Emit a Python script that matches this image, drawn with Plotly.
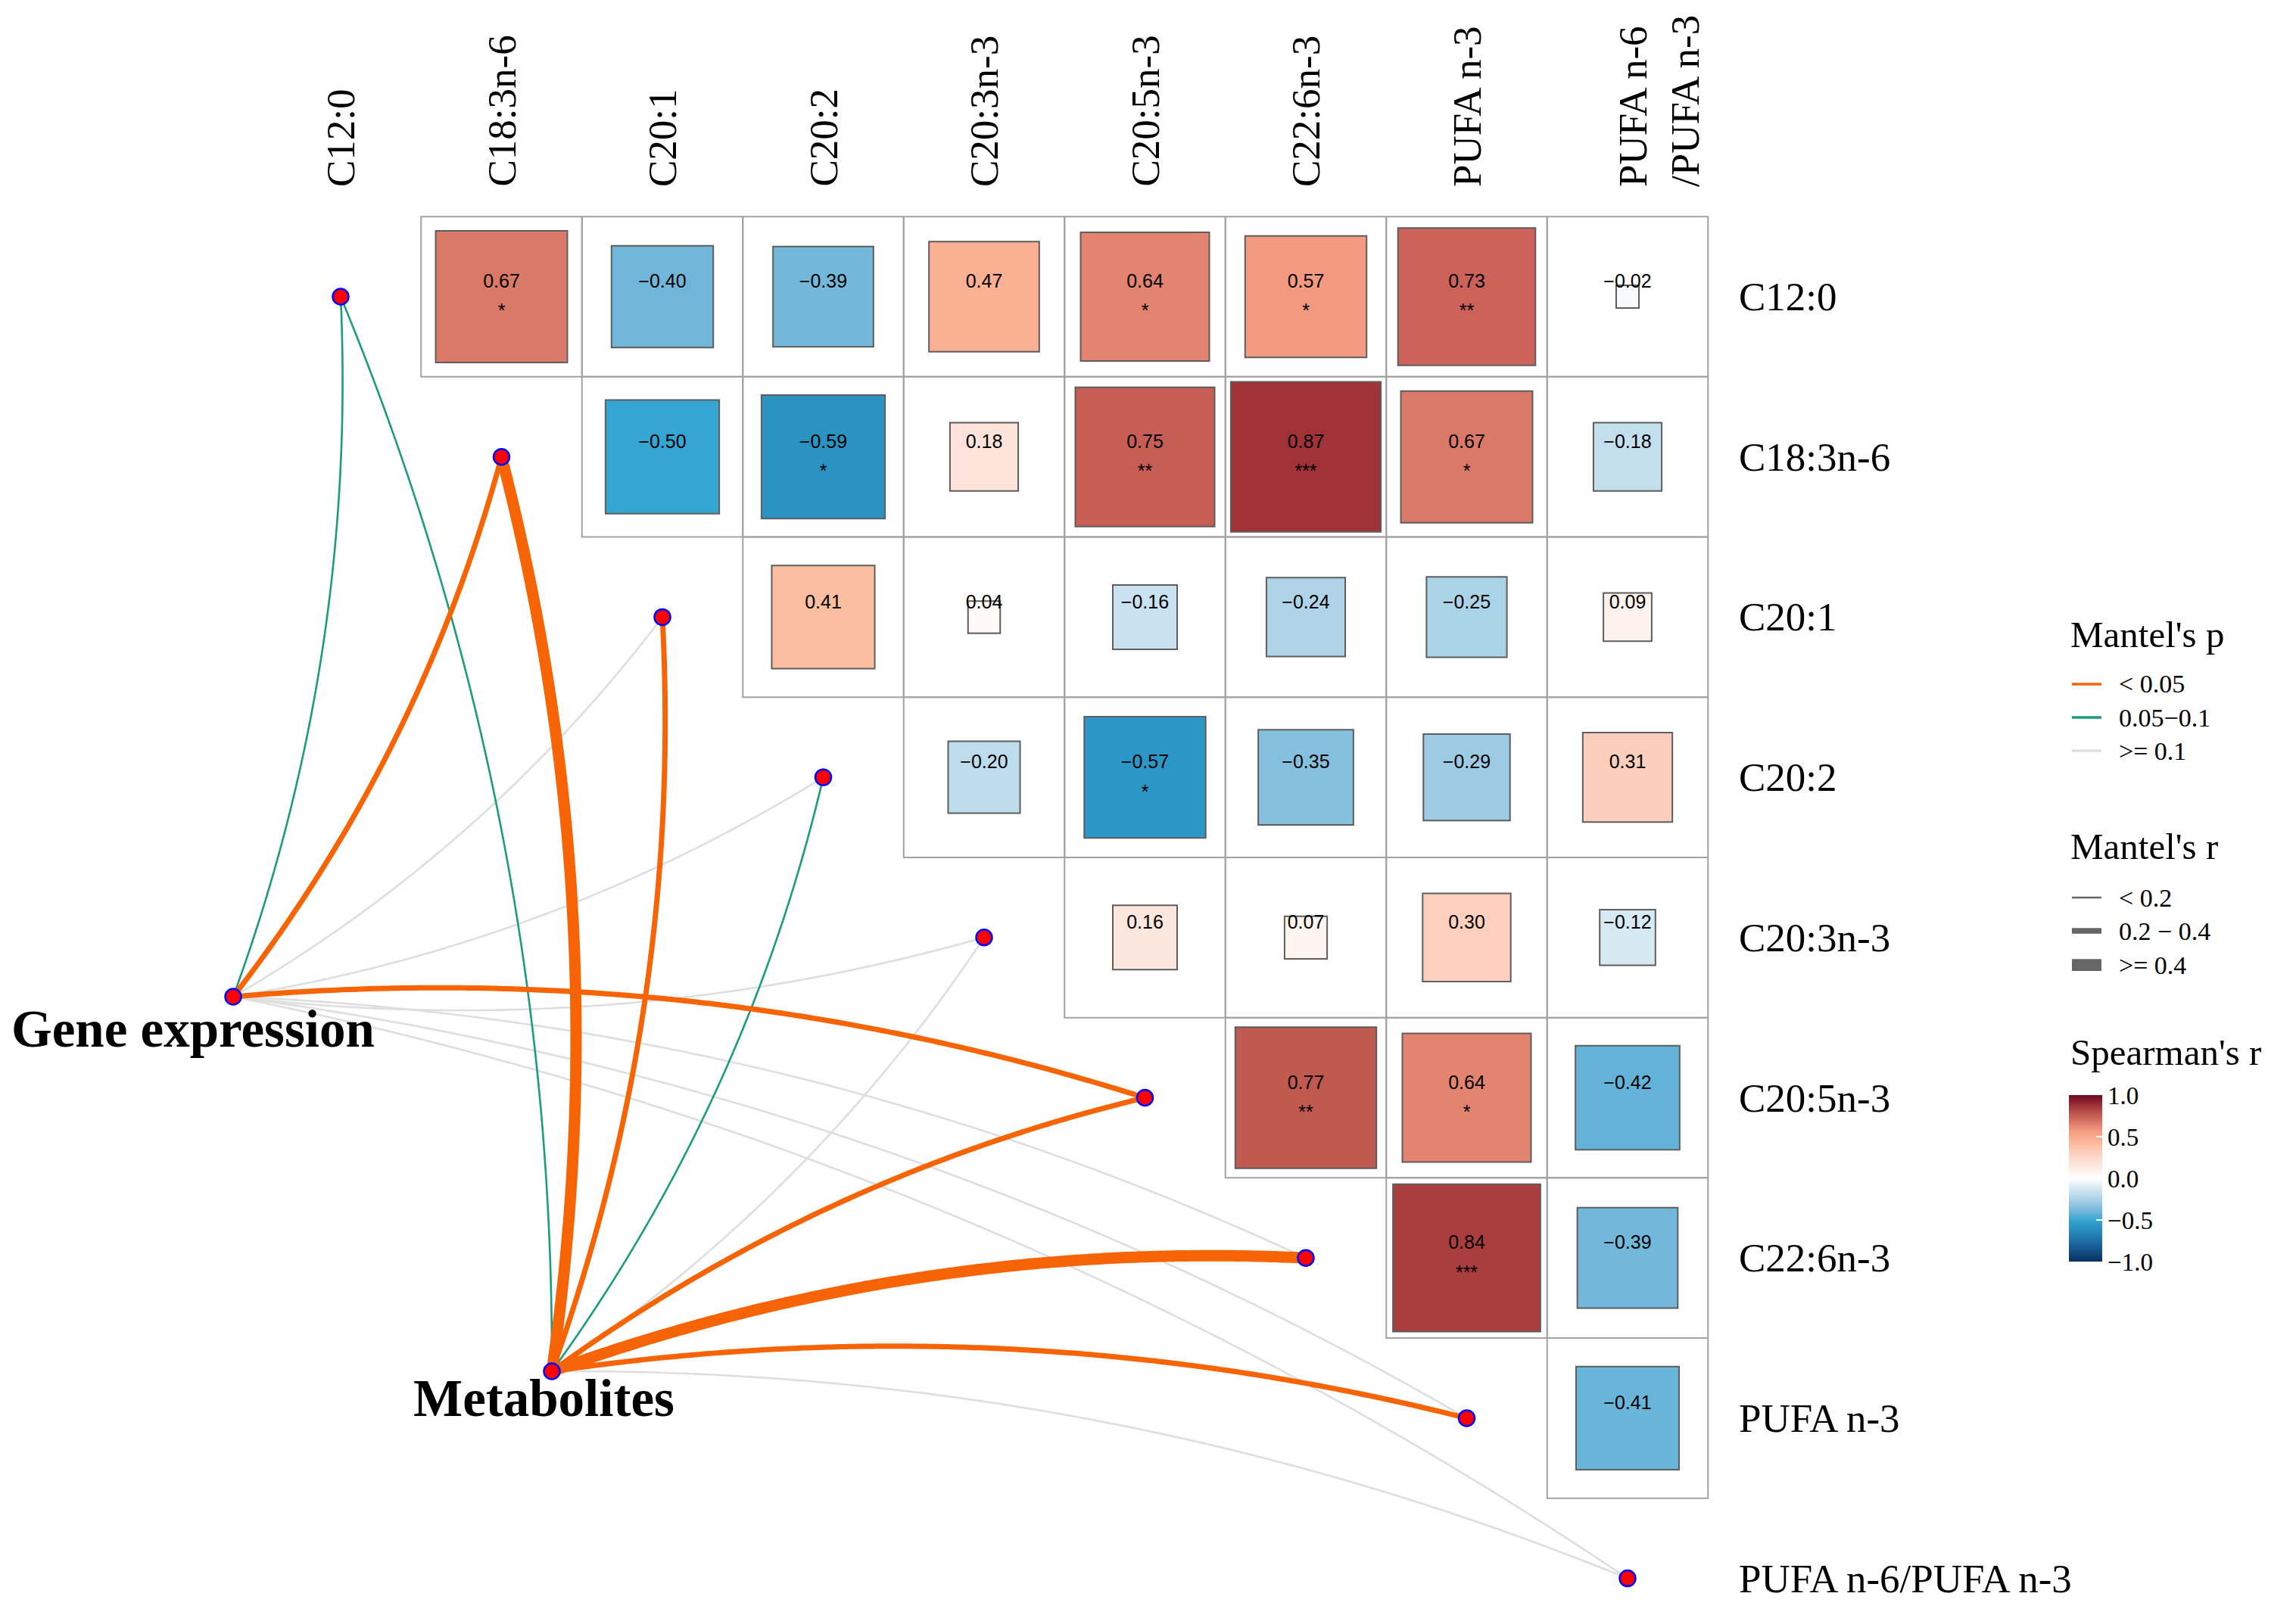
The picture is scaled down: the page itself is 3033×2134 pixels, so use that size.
import numpy as np
import plotly.graph_objects as go

# ---------------- data ----------------
variables = ["C12:0", "C18:3n-6", "C20:1", "C20:2", "C20:3n-3",
             "C20:5n-3", "C22:6n-3", "PUFA n-3", "PUFA n-6/PUFA n-3"]
top_labels = ["C12:0", "C18:3n-6", "C20:1", "C20:2", "C20:3n-3",
              "C20:5n-3", "C22:6n-3", "PUFA n-3", "PUFA n-6<br>/PUFA n-3"]

# Spearman's r, upper triangle: row i holds columns i+1 .. 8
spearman_r = [
    [0.67, -0.40, -0.39, 0.47, 0.64, 0.57, 0.73, -0.02],
    [-0.50, -0.59, 0.18, 0.75, 0.87, 0.67, -0.18],
    [0.41, 0.04, -0.16, -0.24, -0.25, 0.09],
    [-0.20, -0.57, -0.35, -0.29, 0.31],
    [0.16, 0.07, 0.30, -0.12],
    [0.77, 0.64, -0.42],
    [0.84, -0.39],
    [-0.41],
]
signif = [
    ["*", "", "", "", "*", "*", "**", ""],
    ["", "*", "", "**", "***", "*", ""],
    ["", "", "", "", "", ""],
    ["", "*", "", "", ""],
    ["", "", "", ""],
    ["**", "*", ""],
    ["***", ""],
    [""],
]

groups = ["Gene expression", "Metabolites"]
p_classes = ["< 0.05", "0.05\u22120.1", ">= 0.1"]
r_classes = ["< 0.2", "0.2 \u2212 0.4", ">= 0.4"]
mantel_p_gene = ["0.05\u22120.1", "< 0.05", ">= 0.1", ">= 0.1", ">= 0.1",
                 "< 0.05", ">= 0.1", ">= 0.1", ">= 0.1"]
mantel_r_gene = ["< 0.2", "0.2 \u2212 0.4", "< 0.2", "< 0.2", "< 0.2",
                 "0.2 \u2212 0.4", "< 0.2", "< 0.2", "< 0.2"]
mantel_p_metab = ["0.05\u22120.1", "< 0.05", "< 0.05", "0.05\u22120.1", ">= 0.1",
                  "< 0.05", "< 0.05", "< 0.05", ">= 0.1"]
mantel_r_metab = ["< 0.2", ">= 0.4", "0.2 \u2212 0.4", "< 0.2", "< 0.2",
                  "0.2 \u2212 0.4", ">= 0.4", "0.2 \u2212 0.4", "< 0.2"]
cbar_ticks = [-1.0, -0.5, 0.0, 0.5, 1.0]

# ---------------- styles / layout ----------------
W, H = 3033, 2134
X0, DX = 450.0, 212.5     # pixel of column 0 centre, pixels per column
Y0, DY = 392.0, 211.7     # pixel of row 0 centre, pixels per row

def dx(p):  # pixel -> data x
    return (p - X0) / DX

def dy(p):  # pixel -> data y (rows grow downward)
    return (p - Y0) / DY

def paper_x(p):
    return p / W

def paper_y(p):
    return 1 - p / H

group_pos = {"Gene expression": (dx(308), dy(1317)), "Metabolites": (dx(729), dy(1812))}
group_label_pos = {"Gene expression": (dx(255), dy(1360)), "Metabolites": (dx(718), dy(1848))}

p_colors = {"< 0.05": "#F66405", "0.05\u22120.1": "#1B9E77", ">= 0.1": "#DEDEDE"}
r_widths = {"< 0.2": 2.6, "0.2 \u2212 0.4": 7.0, ">= 0.4": 15.0}
draw_rank = {">= 0.1": 0, "0.05\u22120.1": 1, "< 0.05": 2}

colorscale = [
    [0.000, "#053061"], [0.125, "#1F6EA9"], [0.205, "#2A93C2"], [0.250, "#35A6D3"],
    [0.300, "#6FB6DA"], [0.350, "#99C9E2"], [0.400, "#BDDCEC"], [0.450, "#DDECF4"],
    [0.500, "#FFFFFF"], [0.550, "#FEF0EA"], [0.600, "#FDE0D5"], [0.650, "#FDD0BE"],
    [0.705, "#FCBEA0"], [0.750, "#F8A98C"], [0.785, "#F49A80"], [0.820, "#E38471"],
    [0.865, "#CC6259"], [0.885, "#C05A50"], [0.935, "#A03238"], [1.000, "#6E0A22"],
]

SERIF = "Liberation Serif"
SANS = "Liberation Sans"

fig = go.Figure()

# ---------------- grid cells ----------------
n = len(variables)
shapes = []
for i in range(n - 1):
    for j in range(i + 1, n):
        shapes.append(dict(type="rect", xref="x", yref="y",
                           x0=j - 0.5, x1=j + 0.5, y0=i - 0.5, y1=i + 0.5,
                           line=dict(color="#A3A3A3", width=2), fillcolor="rgba(0,0,0,0)",
                           layer="below"))

# ---------------- Mantel links ----------------
def curve(p0, p1, bend, npts=100):
    p0 = np.asarray(p0, float)
    p1 = np.asarray(p1, float)
    d = p1 - p0
    perp = np.array([-d[1], d[0]])
    ctrl = (p0 + p1) / 2 + bend * perp
    t = np.linspace(0, 1, npts)[:, None]
    pts = (1 - t) ** 2 * p0 + 2 * (1 - t) * t * ctrl + t ** 2 * p1
    return pts[:, 0], pts[:, 1]

edges = []
for g, pcls, rcls in [("Gene expression", mantel_p_gene, mantel_r_gene),
                      ("Metabolites", mantel_p_metab, mantel_r_metab)]:
    for k in range(n):
        edges.append((g, k, pcls[k], rcls[k]))
edges.sort(key=lambda e: (draw_rank[e[2]], r_widths[e[3]]))

for g, k, pc, rc in edges:
    bend = 0.1 if k < 5 else -0.1
    xs, ys = curve(group_pos[g], (k, k), bend)
    fig.add_trace(go.Scatter(x=xs, y=ys, mode="lines",
                             line=dict(color=p_colors[pc], width=r_widths[rc], shape="spline"),
                             hoverinfo="skip", showlegend=False))

# ---------------- correlation squares ----------------
sx, sy, sv, ss, lab, star = [], [], [], [], [], []
for i, row in enumerate(spearman_r):
    for m, v in enumerate(row):
        j = i + 1 + m
        sx.append(j)
        sy.append(i)
        sv.append(v)
        ss.append(np.sqrt(abs(v)) * DX)
        lab.append(f"{v:.2f}".replace("-", "\u2212"))
        star.append(signif[i][m])

fig.add_trace(go.Scatter(
    x=sx, y=sy, mode="markers",
    marker=dict(symbol="square", size=ss, color=sv, colorscale=colorscale,
                cmin=-1, cmax=1, opacity=1, line=dict(color="#5E5E5E", width=2),
                showscale=True,
                colorbar=dict(x=paper_x(2733), xanchor="left", xpad=0,
                              y=paper_y(1447), yanchor="top", ypad=0,
                              len=220, lenmode="pixels", thickness=44,
                              outlinewidth=0, tickvals=cbar_ticks,
                              ticktext=[f"{t:.1f}".replace("-", "\u2212") for t in cbar_ticks],
                              ticks="inside", ticklen=8, tickcolor="white", tickwidth=2,
                              tickfont=dict(family=SERIF, size=33, color="black"))),
    hoverinfo="skip", showlegend=False))

fig.add_trace(go.Scatter(x=sx, y=[v - 0.085 for v in sy], mode="text", text=lab,
                         textfont=dict(family=SANS, size=25, color="black"),
                         hoverinfo="skip", showlegend=False))
fig.add_trace(go.Scatter(x=sx, y=[v + 0.10 for v in sy], mode="text", text=star,
                         textfont=dict(family=SANS, size=25, color="black"),
                         hoverinfo="skip", showlegend=False))

# ---------------- nodes ----------------
fig.add_trace(go.Scatter(
    x=list(range(n)) + [group_pos[g][0] for g in groups],
    y=list(range(n)) + [group_pos[g][1] for g in groups],
    mode="markers",
    marker=dict(size=21, color="red", opacity=1, line=dict(color="blue", width=2.5)),
    hoverinfo="skip", showlegend=False))

annotations = []
# group labels
for g in groups:
    gx, gy = group_label_pos[g]
    annotations.append(dict(x=gx, y=gy, xref="x", yref="y", text=f"<b>{g}</b>",
                            showarrow=False, xanchor="center", yanchor="middle",
                            font=dict(family=SERIF, size=69, color="black")))

# top (rotated) labels
for j, t in enumerate(top_labels):
    if "<br>" in t:
        annotations.append(dict(x=dx(2126), y=dy(249), xref="x", yref="y", text=t,
                                showarrow=False, textangle=-90, xanchor="left",
                                yanchor="bottom", align="left",
                                font=dict(family=SERIF, size=53, color="black")))
    else:
        annotations.append(dict(x=j, y=dy(249), xref="x", yref="y", text=t,
                                showarrow=False, textangle=-90, xanchor="center",
                                yanchor="bottom",
                                font=dict(family=SERIF, size=53, color="black")))
# right labels
for i, t in enumerate(variables):
    annotations.append(dict(x=dx(2295), y=i, xref="x", yref="y", text=t,
                            showarrow=False, xanchor="left", yanchor="middle",
                            font=dict(family=SERIF, size=53, color="black")))

# ---------------- legends ----------------
def legend_title(text, ypx):
    annotations.append(dict(x=paper_x(2733), y=paper_y(ypx), xref="paper", yref="paper",
                            text=text, showarrow=False, xanchor="left", yanchor="middle",
                            font=dict(family=SERIF, size=49, color="black")))

def legend_item(text, ypx, color, width):
    shapes.append(dict(type="line", xref="paper", yref="paper",
                       x0=paper_x(2737), x1=paper_x(2776), y0=paper_y(ypx), y1=paper_y(ypx),
                       line=dict(color=color, width=width)))
    annotations.append(dict(x=paper_x(2797), y=paper_y(ypx), xref="paper", yref="paper",
                            text=text, showarrow=False, xanchor="left", yanchor="middle",
                            font=dict(family=SERIF, size=34, color="black")))

legend_title("Mantel's p", 838)
for c, ypx in zip(p_classes, [904, 948, 992]):
    legend_item(c, ypx, p_colors[c], 3.5)
legend_title("Mantel's r", 1118)
for c, ypx in zip(r_classes, [1186, 1230, 1275]):
    legend_item(c, ypx, "#666666", r_widths[c] * 1.05)
legend_title("Spearman's r", 1390)

fig.update_layout(
    width=W, height=H, autosize=False,
    margin=dict(l=0, r=0, t=0, b=0, pad=0),
    paper_bgcolor="white", plot_bgcolor="white",
    showlegend=False,
    xaxis=dict(range=[dx(0), dx(W)], visible=False, fixedrange=True),
    yaxis=dict(range=[dy(H), dy(0)], visible=False, fixedrange=True),
    shapes=shapes, annotations=annotations,
)

fig.write_html("out.html", config={"displayModeBar": False},
               post_script="document.body.style.margin='0';")
